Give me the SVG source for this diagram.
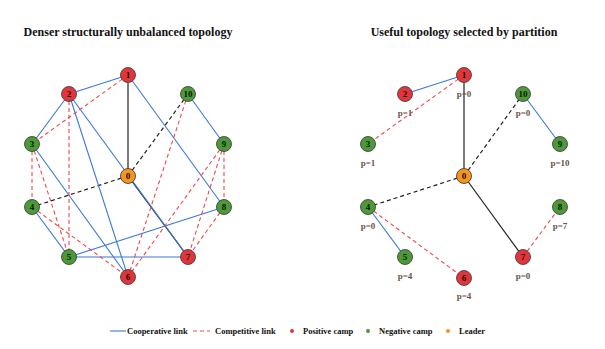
<svg xmlns="http://www.w3.org/2000/svg" width="605" height="349" viewBox="0 0 605 349">
<style>
text{font-family:"Liberation Serif","Times New Roman",serif;font-weight:bold;fill:#111}
.title{font-size:12px;text-anchor:middle}
.lg{font-size:8.5px}
.n circle{stroke:#444;stroke-width:0.9}
.n text{font-size:9px;text-anchor:middle;dominant-baseline:central}
.pos circle{fill:#e3343a}
.neg circle{fill:#4c9a36}
.lead circle{fill:#f7931e}
.p{font-size:7px;text-anchor:middle;fill:#6a5346}
.co{stroke:#3b78d8;stroke-width:1.1;fill:none}
.cm{stroke:#ea4a4a;stroke-width:1.1;stroke-dasharray:4 3;fill:none}
.ls{stroke:#222;stroke-width:1.2;fill:none}
.ld{stroke:#222;stroke-width:1.2;stroke-dasharray:4 3;fill:none}
</style>
<rect width="605" height="349" fill="#fff"/>
<text class="title" x="128" y="36">Denser structurally unbalanced topology</text>
<text class="title" x="464" y="36">Useful topology selected by partition</text>

<g id="connectors-left">
<line class="ls" x1="128" y1="75" x2="128" y2="176"/>
<line class="ls" x1="128" y1="176" x2="188" y2="257"/>
<line class="ld" x1="128" y1="176" x2="188" y2="94"/>
<line class="ld" x1="128" y1="176" x2="32" y2="207"/>
<line class="co" x1="128" y1="75" x2="69" y2="94"/>
<line class="co" x1="128" y1="75" x2="224" y2="207"/>
<line class="co" x1="69" y1="94" x2="32" y2="144"/>
<line class="co" x1="69" y1="94" x2="188" y2="257"/>
<line class="co" x1="69" y1="94" x2="128" y2="277"/>
<line class="co" x1="32" y1="144" x2="128" y2="277"/>
<line class="co" x1="32" y1="207" x2="69" y2="257"/>
<line class="co" x1="69" y1="257" x2="188" y2="257"/>
<line class="co" x1="69" y1="257" x2="224" y2="207"/>
<line class="co" x1="188" y1="94" x2="224" y2="144"/>
<line class="cm" x1="128" y1="75" x2="32" y2="144"/>
<line class="cm" x1="69" y1="94" x2="69" y2="257"/>
<line class="cm" x1="32" y1="144" x2="32" y2="207"/>
<line class="cm" x1="32" y1="144" x2="69" y2="257"/>
<line class="cm" x1="32" y1="207" x2="128" y2="277"/>
<line class="cm" x1="188" y1="94" x2="128" y2="277"/>
<line class="cm" x1="224" y1="144" x2="128" y2="277"/>
<line class="cm" x1="224" y1="144" x2="188" y2="257"/>
<line class="cm" x1="224" y1="144" x2="224" y2="207"/>
<line class="cm" x1="224" y1="207" x2="188" y2="257"/>
</g>

<g id="connectors-right">
<line class="ls" x1="464" y1="75" x2="464" y2="176"/>
<line class="ls" x1="464" y1="176" x2="523" y2="257"/>
<line class="ld" x1="464" y1="176" x2="523" y2="94"/>
<line class="ld" x1="464" y1="176" x2="368" y2="207"/>
<line class="co" x1="464" y1="75" x2="405" y2="94"/>
<line class="co" x1="523" y1="94" x2="560" y2="144"/>
<line class="co" x1="368" y1="207" x2="405" y2="257"/>
<line class="cm" x1="464" y1="75" x2="368" y2="144"/>
<line class="cm" x1="368" y1="207" x2="464" y2="278"/>
<line class="cm" x1="523" y1="257" x2="560" y2="207"/>
</g>

<g id="L0" class="n lead"><circle cx="128" cy="176" r="7.5"/><text x="128" y="176">0</text></g>
<g id="L1" class="n pos"><circle cx="128" cy="75" r="7.5"/><text x="128" y="75">1</text></g>
<g id="L2" class="n pos"><circle cx="69" cy="94" r="7.5"/><text x="69" y="94">2</text></g>
<g id="L3" class="n neg"><circle cx="32" cy="144" r="7.5"/><text x="32" y="144">3</text></g>
<g id="L4" class="n neg"><circle cx="32" cy="207" r="7.5"/><text x="32" y="207">4</text></g>
<g id="L5" class="n neg"><circle cx="69" cy="257" r="7.5"/><text x="69" y="257">5</text></g>
<g id="L6" class="n pos"><circle cx="128" cy="277" r="7.5"/><text x="128" y="277">6</text></g>
<g id="L7" class="n pos"><circle cx="188" cy="257" r="7.5"/><text x="188" y="257">7</text></g>
<g id="L8" class="n neg"><circle cx="224" cy="207" r="7.5"/><text x="224" y="207">8</text></g>
<g id="L9" class="n neg"><circle cx="224" cy="144" r="7.5"/><text x="224" y="144">9</text></g>
<g id="L10" class="n neg"><circle cx="188" cy="94" r="7.5"/><text x="188" y="94">10</text></g>

<g id="R0" class="n lead"><circle cx="464" cy="176" r="7.5"/><text x="464" y="176">0</text></g>
<g id="R1" class="n pos"><circle cx="464" cy="75" r="7.5"/><text x="464" y="75">1</text><text class="p" x="464" y="94">p=0</text></g>
<g id="R2" class="n pos"><circle cx="405" cy="94" r="7.5"/><text x="405" y="94">2</text><text class="p" x="405" y="113">p=1</text></g>
<g id="R3" class="n neg"><circle cx="368" cy="144" r="7.5"/><text x="368" y="144">3</text><text class="p" x="368" y="163">p=1</text></g>
<g id="R4" class="n neg"><circle cx="368" cy="207" r="7.5"/><text x="368" y="207">4</text><text class="p" x="368" y="226">p=0</text></g>
<g id="R5" class="n neg"><circle cx="405" cy="257" r="7.5"/><text x="405" y="257">5</text><text class="p" x="405" y="276">p=4</text></g>
<g id="R6" class="n pos"><circle cx="464" cy="278" r="7.5"/><text x="464" y="278">6</text><text class="p" x="464" y="296">p=4</text></g>
<g id="R7" class="n pos"><circle cx="523" cy="257" r="7.5"/><text x="523" y="257">7</text><text class="p" x="523" y="276">p=0</text></g>
<g id="R8" class="n neg"><circle cx="560" cy="207" r="7.5"/><text x="560" y="207">8</text><text class="p" x="560" y="226">p=7</text></g>
<g id="R9" class="n neg"><circle cx="560" cy="144" r="7.5"/><text x="560" y="144">9</text><text class="p" x="560" y="163">p=10</text></g>
<g id="R10" class="n neg"><circle cx="523" cy="94" r="7.5"/><text x="523" y="94">10</text><text class="p" x="523" y="113">p=0</text></g>

<g id="legend">
<line class="co" x1="110" y1="331" x2="126" y2="331"/>
<text class="lg" x="127" y="334">Cooperative link</text>
<line class="cm" x1="193" y1="331" x2="210" y2="331"/>
<text class="lg" x="215" y="334">Competitive link</text>
<circle cx="292" cy="331" r="2" fill="#e3343a"/>
<text class="lg" x="303" y="334">Positive camp</text>
<circle cx="368" cy="331" r="2" fill="#4c9a36"/>
<text class="lg" x="379" y="334">Negative camp</text>
<circle cx="448" cy="331" r="2" fill="#f7931e"/>
<text class="lg" x="459" y="334">Leader</text>
</g>
</svg>
